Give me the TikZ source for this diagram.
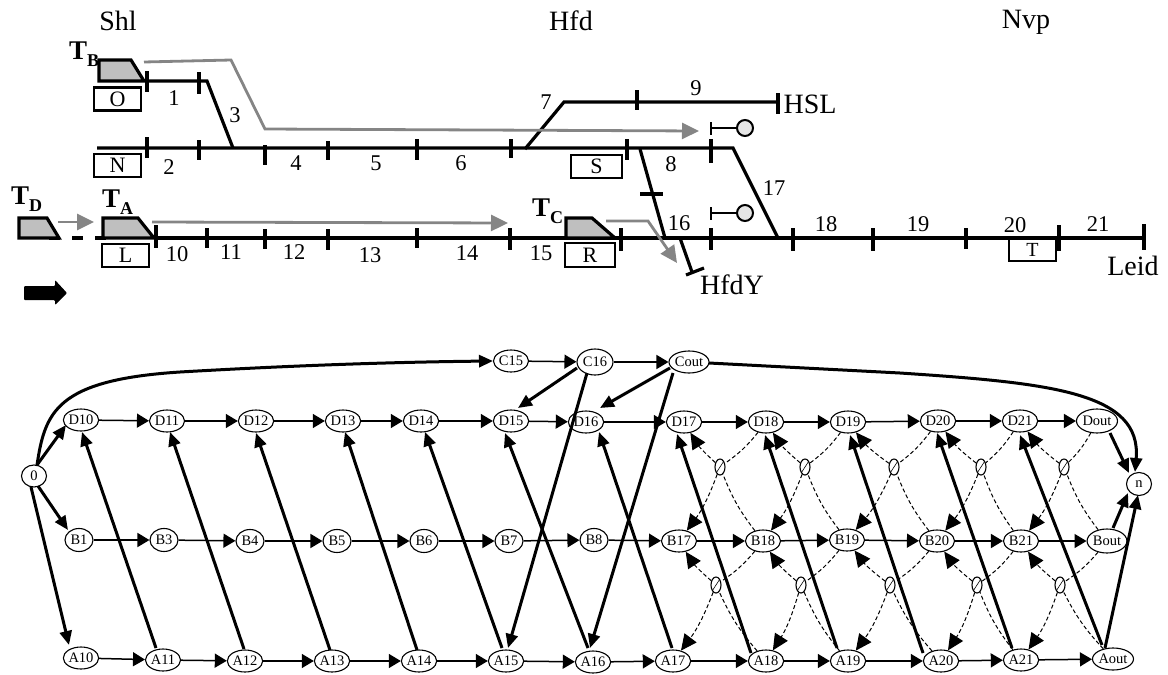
\documentclass[tikz,border=0pt]{standalone}
\usepackage{fontspec}
\setmainfont{Liberation Serif}
\usetikzlibrary{arrows.meta,shapes.geometric,calc}
\newcommand{\fsz}[1]{\fontsize{#1}{#1}\selectfont}
\definecolor{trainfill}{gray}{0.75}
\definecolor{pathgray}{gray}{0.52}
\definecolor{sigfill}{gray}{0.9}
\tikzset{
  track/.style={line width=3.2pt,black},
  train/.style={line width=3.2pt,draw=black,fill=trainfill,line join=miter},
  route/.style={line width=2.8pt,draw=pathgray,-{Triangle[length=17pt,width=16pt]}},
  lbl/.style={font=\fsz{28},inner sep=0pt},
  num/.style={font=\fsz{22.5},inner sep=0pt},
  boxl/.style={draw,line width=2.1pt,minimum width=47pt,minimum height=23pt,inner sep=0pt,font=\fsz{22}},
  tname/.style={font=\bfseries\fsz{27},inner sep=0pt},
  gn/.style={ellipse,draw,line width=1.1pt,inner sep=0pt,minimum width=35pt,minimum height=22pt,fill=white,font=\fsz{14.5}},
  gw/.style={gn,minimum width=28pt},
  gz/.style={gn,minimum width=25pt},
  xn/.style={ellipse,draw,line width=1.1pt,inner sep=0pt,minimum width=10pt,minimum height=16pt},
  harr/.style={line width=1.5pt,-{Triangle[length=12pt,width=14pt]}},
  darr/.style={line width=3pt,-{Triangle[length=14pt,width=12pt]}},
  dash1/.style={line width=1pt,dash pattern=on 4pt off 2.5pt},
  dasharr/.style={dash1,-{Triangle[length=16pt,width=15pt]}},
}
\newcommand{\tlabel}[1]{T\raisebox{-7pt}{\fsz{18}#1}}
\begin{document}
\begin{tikzpicture}[x=1pt,y=-1pt]
\useasboundingbox (0,0) rectangle (1168,675);
% ---------- track plan
\draw[track] (146,81) -- (207,81) -- (233,148);
\draw[track] (97,148) -- (733,148) -- (778,238);
\draw[track] (525,149) -- (564,102) -- (778,102);
\draw[track] (155,238) -- (1144,238);
\draw[track] (640,149) -- (665,238);
\draw[track] (680,238) -- (692,272);
\draw[track] (686,275) -- (704,268);
\draw[track] (640,194) -- (663,194);
\draw[track,dash pattern=on 11pt off 12pt] (49,238) -- (110,238);
\foreach \x/\a/\b in {147/71/92,199/72/94,147/137/158,199/140/160,265/145/165,328/141/160,417/139/160,511/139/158,627/139/160,711/139/163,637/90/110,778/93/114,
  156/225/248,207/228/248,265/229/249,328/229/250,417/228/248,510/228/250,621/228/251,711/228/250,793/228/251,873/228/251,966/228/249,1059/225/251,1144/224/250}
  \draw[line width=3.2pt] (\x,\a) -- (\x,\b);
% signals
\draw[line width=2.6pt] (711,122) -- (711,135);
\draw[line width=2.6pt] (711,128) -- (737,128);
\draw[line width=2pt,fill=sigfill] (745,128) circle (8);
\draw[line width=2.6pt] (711,207) -- (711,220);
\draw[line width=2.6pt] (711,213) -- (737,213);
\draw[line width=2pt,fill=sigfill] (745,213) circle (8);
% trains
\draw[train] (99,60) -- (131,60) -- (144,81) -- (99,81) -- cycle;
\draw[train] (19,218) -- (47,218) -- (59,238) -- (19,238) -- cycle;
\draw[train] (103,218) -- (138,218) -- (154,238) -- (103,238) -- cycle;
\draw[train] (566,218) -- (592,218) -- (615,238) -- (566,238) -- cycle;
% routes
\draw[route] (144,62) -- (231,60) -- (265,129) -- (699,131);
\draw[route] (152,222) -- (508,223);
\draw[route] (606,221) -- (648,221) -- (677,263);
\draw[route] (58,222) -- (94,222);
% block arrow
\fill[black,rounded corners=1pt] (24,286) -- (55,286) -- (55,280) -- (67,293) -- (55,305) -- (55,300) -- (24,300) -- cycle;
% boxes
\node[boxl] (bO) at (117.5,99) {O};
\node[boxl] (bN) at (117.5,165.5) {N};
\node[boxl] (bL) at (125.5,255.5) {L};
\node[boxl,minimum width=51pt] (bS) at (596.5,166.5) {S};
\node[boxl,minimum width=50pt,minimum height=24pt] (bR) at (590,255) {R};
\node[boxl,line width=1.6pt,minimum height=23pt,font=\fsz{20}] (bT) at (1032.5,249.5) {T};
% labels
\node[lbl] (lShl) at (118,21) {Shl};
\node[lbl] (lHfd) at (571,21) {Hfd};
\node[lbl] (lNvp) at (1026,22) {Nvp};
\node[lbl] (lHSL) at (810,104) {HSL};
\node[lbl] (lHfdY) at (732,285) {HfdY};
\node[lbl] (lLeid) at (1133,266) {Leid};
\foreach \t/\x/\y in {1/174/98,2/169/167,3/235/115,4/296/163,5/376/163,6/461/163,7/546/102,8/671/164,9/696/88,10/177/254,11/231/252,12/294/252,13/370/255,14/467/253,15/541/253,16/679/223,17/774/188,18/826/224,19/918/224,20/1015/225,21/1098/224}
  \node[num] (n\t) at (\x,\y) {\t};
\node[tname,anchor=base west] (tB) at (69,59) {\tlabel{B}};
\node[tname,anchor=base west] (tD) at (11,204) {\tlabel{D}};
\node[tname,anchor=base west] (tA) at (102,207) {\tlabel{A}};
\node[tname,anchor=base west] (tC) at (532,216) {\tlabel{C}};
% ---------- graph node positions
\node[gz] (0) at (34,476) {0};
\node[gz,minimum width=25pt,minimum height=23pt] (n) at (1139,484) {n};
\foreach \t/\x/\y in {C15/511/361,D10/81/420,D11/167/421,D12/256/421,D13/343/421,D14/421/421,D15/511/421,D16/586/422,D17/684/422,D18/766/422,D19/848/422,D20/938/421,D21/1020/421,
  B17/679/541,B18/763/541,B19/847/540,B20/937/541,B21/1021/541,
  A10/81/658,A11/163/660,A12/245/661,A13/332/661,A14/419/661,A15/506/661,A16/593/662,A17/673/661,A18/766/661,A19/848/661,A20/941/661,A21/1021/660}
  \node[gn] (\t) at (\x,\y) {\t};
\foreach \t/\x/\y in {B1/79/540,B3/164/540,B4/250/541,B5/337/541,B6/424/541,B7/509/541,B8/594/540}
  \node[gw,minimum height=23pt] (\t) at (\x,\y) {\t};
\node[gn,minimum width=36pt,minimum height=26pt] (C16) at (595,362) {C16};
\node[gn,minimum width=40pt] (Cout) at (689,362) {Cout};
\node[gn,minimum width=36pt,minimum height=24pt] (Dout) at (1097,421) {Dout};
\node[gn,minimum width=33pt,minimum height=24pt] (Bout) at (1107,541) {Bout};
\node[gn,minimum width=40pt] (Aout) at (1113,659) {Aout};
\foreach \t/\x in {u1/720,u2/805,u3/894,u4/981,u5/1064}{
  \node[xn] (\t) at (\x,467) {};
  \draw[line width=0.6pt] (\t.south west) -- (\t.north east);}
\foreach \t/\x in {l1/716,l2/801,l3/890,l4/977,l5/1060}{
  \node[xn] (\t) at (\x,585) {};
  \draw[line width=0.6pt] (\t.south west) -- (\t.north east);}
% ---------- horizontal edges
\foreach \a/\b in {C15/C16,C16/Cout,
  D10/D11,D11/D12,D12/D13,D13/D14,D14/D15,D15/D16,D16/D17,D17/D18,D18/D19,D19/D20,D20/D21,D21/Dout,
  B1/B3,B3/B4,B4/B5,B5/B6,B6/B7,B7/B8,B8/B17,B17/B18,B18/B19,B19/B20,B20/B21,B21/Bout,
  A10/A11,A11/A12,A12/A13,A13/A14,A14/A15,A15/A16,A16/A17,A17/A18,A18/A19,A19/A20,A20/A21,A21/Aout}
  \draw[harr] (\a) -- (\b);
% ---------- thick edges
\foreach \a/\sx/\sy/\b/\tx/\ty in {
  A11/-7/-12/D10/1/12, A12/-1/-12/D11/3/11, A13/-2/-11/D12/0/12, A14/-2/-11/D13/2/11,
  A15/-4/-13/D14/4/11, A16/-5/-14/D15/-6/12, A17/-1/-13/D16/13/10, A18/-15/-8/D17/-7/12,
  A19/-11/-13/D18/-1/13, A20/-18/-8/D19/2/13, A21/-9/-12/D20/-1/12, Aout/-11/-14/D21/0/14,
  C16/-8/11/A15/2/-13, Cout/-16/11/A16/-3/-14, C16/-18/6/D15/7/-13, Cout/-19/6/D16/14/-14,
  0/3/-11/D10/-15/5, 0/4/10/B1/-11/-10, 0/-3/11/A10/-12/-13,
  Dout/13/12/n/-10/-11, Bout/6/-13/n/-11/9, Aout/-8/-11/n/-1/11}
  \draw[darr] ([shift={(\sx,\sy)}]\a.center) -- ([shift={(\tx,\ty)}]\b.center);
\draw[darr] ([shift={(3,-11)}]0.center) .. controls (45,412) and (56,380) .. (180,372) .. controls (300,365) and (400,362) .. ([shift={(-18,0)}]C15.center);
\draw[darr] ([shift={(20,1)}]Cout.center) -- (900,373) .. controls (1050,383) and (1142,392) .. ([shift={(-4,-12)}]n.center);
% ---------- dashed edges through crossing nodes
\foreach \x/\a/\b/\c/\d in {u1/B18/D18/D17/B17,u2/B19/D19/D18/B18,u3/B20/D20/D19/B19,u4/B21/D21/D20/B20,u5/Bout/Dout/D21/B21,
  l1/A18/B18/B17/A17,l2/A19/B19/B18/A18,l3/A20/B20/B19/A19,l4/A21/B21/B20/A20,l5/Aout/Bout/B21/A21}{
  \draw[dash1] (\a) to[bend left=8] (\x);
  \draw[dash1] (\b) to[bend left=8] (\x);
  \draw[dasharr] (\x) to[bend left=8] (\c);
  \draw[dasharr] (\x) to[bend left=8] (\d);
}
\end{tikzpicture}
\end{document}
